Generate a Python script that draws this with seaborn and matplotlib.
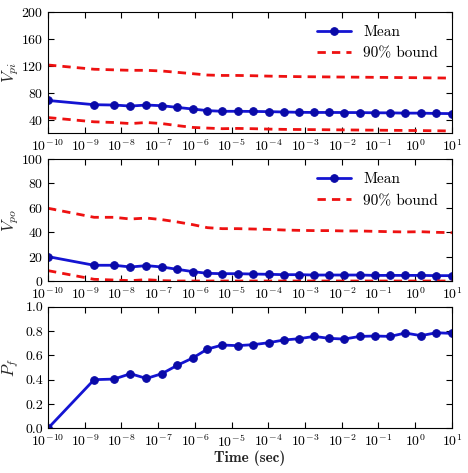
import numpy as np
import pandas as pd
import matplotlib
matplotlib.use('Agg')
import matplotlib.pyplot as plt
import seaborn as sns

# time points (sec); first point drawn at the left edge of the axis
time_sec = [1e-10, 1.8e-9, 6.3e-9, 1.76e-8, 4.8e-8, 1.26e-7, 3.3e-7, 8.7e-7,
            2.2e-6, 5.6e-6, 1.45e-5, 3.9e-5, 1.02e-4, 2.6e-4, 6.9e-4, 1.76e-3,
            4.6e-3, 1.17e-2, 3.1e-2, 7.9e-2, 0.21, 0.54, 1.43, 3.74, 10.0]

vpi_mean = [68.3, 62.0, 61.5, 60.0, 61.5, 60.5, 58.0, 55.6, 53.2, 52.2, 52.2, 52.0,
            51.7, 51.2, 50.7, 50.5, 50.5, 50.4, 50.3, 50.0, 49.9, 49.5, 49.5, 49.0, 48.8]
vpi_upper = [120.9, 114.6, 113.7, 113.0, 113.0, 112.0, 110.0, 108.0, 106.0, 105.4, 105.4,
             105.0, 104.4, 104.0, 103.6, 103.4, 103.2, 103.0, 102.8, 102.6, 102.4, 102.2,
             102.0, 101.7, 101.5]
vpi_lower = [42.9, 36.6, 35.6, 34.0, 35.6, 34.0, 31.0, 28.3, 27.3, 26.4, 26.8, 26.4,
             25.8, 25.4, 25.2, 25.0, 24.8, 24.6, 24.4, 24.2, 24.0, 23.8, 23.6, 23.3, 23.0]

vpo_mean = [20.0, 12.9, 12.9, 11.5, 12.6, 11.5, 9.6, 7.7, 6.3, 6.0, 6.0, 5.7, 5.5, 5.2,
            5.2, 4.9, 4.9, 4.9, 4.9, 4.6, 4.6, 4.6, 4.6, 4.4, 4.4]
vpo_upper = [59.6, 52.2, 52.2, 50.8, 51.6, 50.3, 48.4, 46.2, 43.7, 42.9, 42.9, 42.6,
             42.3, 41.8, 41.5, 41.3, 41.3, 41.0, 41.0, 40.7, 40.4, 40.2, 40.4, 39.9, 39.6]
vpo_lower = [8.5, 1.4, 0.8, 0.3, 1.1, 0.3, 0.0, 0.0, 0.0, 0.0, 0.0, 0.0, 0.0, 0.0, 0.0,
             0.0, 0.0, 0.0, 0.0, 0.0, 0.0, 0.0, 0.0, 0.0, 0.0]

pf = [0.0, 0.400, 0.405, 0.449, 0.410, 0.449, 0.518, 0.578, 0.652, 0.685, 0.680, 0.688,
      0.704, 0.726, 0.737, 0.756, 0.740, 0.734, 0.756, 0.759, 0.756, 0.784, 0.762, 0.786,
      0.781]

sns.set_style('ticks')
plt.rcParams.update({
    'font.family': ['cmr10'],
    'mathtext.fontset': 'cm',
    'axes.formatter.use_mathtext': True,
    'font.size': 10,
    'xtick.direction': 'in',
    'ytick.direction': 'in',
    'xtick.top': True,
    'ytick.right': True,
    'xtick.major.size': 4,
    'ytick.major.size': 4,
    'xtick.minor.visible': False,
    'axes.edgecolor': 'black',
    'axes.linewidth': 0.8,
    'xtick.color': 'black',
    'ytick.color': 'black',
    'text.color': 'black',
})

df = pd.DataFrame({'t': time_sec, 'vpi_mean': vpi_mean, 'vpi_upper': vpi_upper,
                   'vpi_lower': vpi_lower, 'vpo_mean': vpo_mean, 'vpo_upper': vpo_upper,
                   'vpo_lower': vpo_lower, 'pf': pf})

blue = '#1414d2'
red = '#ee1111'

fig = plt.figure(figsize=(4.68, 4.73), dpi=100)
left, width = 0.1026, 0.863
ax1 = fig.add_axes([left, 0.7188, width, 0.2565])
ax2 = fig.add_axes([left, 0.4059, width, 0.258])
ax3 = fig.add_axes([left, 0.0945, width, 0.257])


def bound_panel(ax, mean, upper, lower):
    sns.lineplot(data=df, x='t', y=mean, ax=ax, color=blue, lw=2, marker='o',
                 markersize=5.5, markerfacecolor='#0a0aa8', markeredgecolor='#0a0aa8',
                 label='Mean')
    sns.lineplot(data=df, x='t', y=upper, ax=ax, color=red, lw=2, dashes=(3, 2.2),
                 label='90% bound')
    sns.lineplot(data=df, x='t', y=lower, ax=ax, color=red, lw=2, dashes=(3, 2.2))
    ax.legend(loc='upper right', frameon=False, fontsize=11, handlelength=2.2)


bound_panel(ax1, 'vpi_mean', 'vpi_upper', 'vpi_lower')
bound_panel(ax2, 'vpo_mean', 'vpo_upper', 'vpo_lower')
sns.lineplot(data=df, x='t', y='pf', ax=ax3, color=blue, lw=2, marker='o',
             markersize=5.5, markerfacecolor='#0a0aa8', markeredgecolor='#0a0aa8')

ax1.set_ylim(20, 200)
ax1.set_yticks([40, 80, 120, 160, 200])
ax1.set_ylabel(r'$V_{pi}$', fontsize=12)
ax2.set_ylim(0, 100)
ax2.set_yticks([0, 20, 40, 60, 80, 100])
ax2.set_ylabel(r'$V_{po}$', fontsize=12)
ax3.set_ylim(0, 1.0)
ax3.set_yticks([0.0, 0.2, 0.4, 0.6, 0.8, 1.0])
ax3.set_yticklabels(['0.0', '0.2', '0.4', '0.6', '0.8', '1.0'])
ax3.set_ylabel(r'$P_f$', fontsize=12)
ax3.set_xlabel('Time (sec)', fontsize=11, family='cmb10', labelpad=1)

for ax in (ax1, ax2, ax3):
    ax.set_xscale('log')
    ax.set_xlim(1e-10, 1e1)
    ax.set_xticks([10.0 ** k for k in range(-10, 2)])
    ax.xaxis.set_minor_locator(matplotlib.ticker.NullLocator())
    ax.tick_params(top=True, right=True, direction='in', labelsize=10)
    if ax is not ax3:
        ax.set_xlabel('')
    ax.yaxis.set_label_coords(-0.068, 0.5)

fig.savefig('out.png', dpi=100)
